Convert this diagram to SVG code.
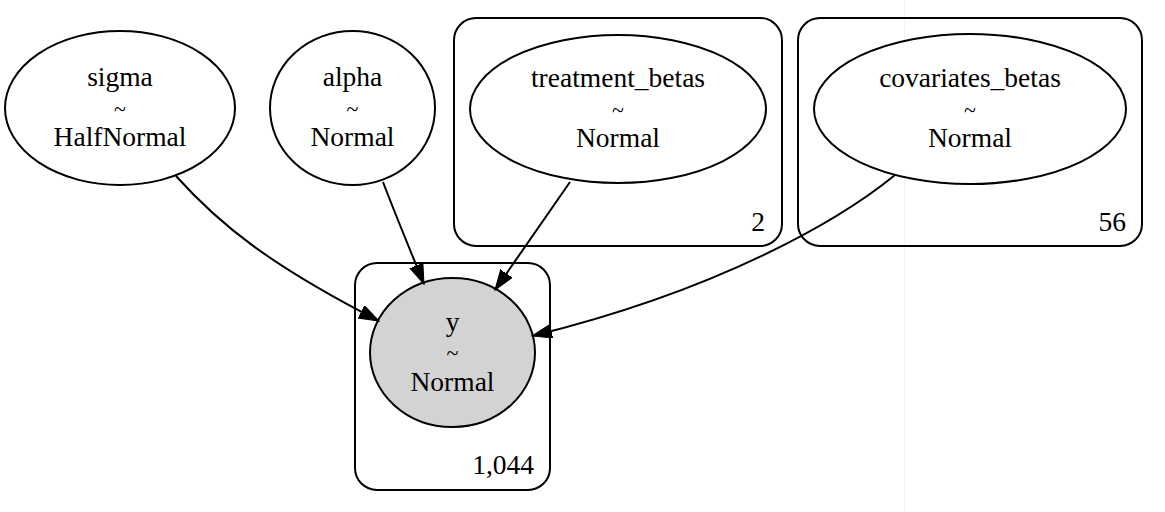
<svg xmlns="http://www.w3.org/2000/svg" width="1165" height="512" viewBox="0 0 1165 512">
<style>
text{font-size:27.5px;fill:#000;text-anchor:middle}
.lbl{text-anchor:end}
.tl{font-size:22px}
.node{fill:#fff;stroke:#000;stroke-width:2}
.obs{fill:#d3d3d3;stroke:#000;stroke-width:2}
.plate{fill:none;stroke:#000;stroke-width:2}
.edge{fill:none;stroke:#000;stroke-width:2;marker-end:url(#arr)}
</style>
<defs>
<marker id="arr" markerUnits="userSpaceOnUse" markerWidth="22" markerHeight="16" refX="20" refY="7" orient="auto">
<path d="M0,0 L20,7 L0,14 z" fill="#000" stroke="#000" stroke-width="1"/>
</marker>
</defs>
<rect width="1165" height="512" fill="#fff"/>
<line x1="904.5" y1="0" x2="904.5" y2="512" stroke="#f0f0f0" stroke-width="1"/>
<g font-family="Liberation Serif">
<g id="plate_treatment">
<rect class="plate" x="454" y="18" width="328" height="228" rx="22"/>
<text class="lbl" x="765" y="231">2</text>
</g>
<g id="plate_covariates">
<rect class="plate" x="798" y="18" width="344" height="228" rx="22"/>
<text class="lbl" x="1126" y="231">56</text>
</g>
<g id="plate_y">
<rect class="plate" x="355" y="263" width="195" height="227" rx="22"/>
<text class="lbl" x="534" y="474">1,044</text>
</g>
<g id="sigma">
<ellipse class="node" cx="120" cy="108" rx="115" ry="77"/>
<text x="120" y="86">sigma</text>
<text class="tl" x="120" y="116">~</text>
<text x="120" y="146">HalfNormal</text>
</g>
<g id="alpha">
<ellipse class="node" cx="352.5" cy="108" rx="82.5" ry="77"/>
<text x="352.5" y="86">alpha</text>
<text class="tl" x="352.5" y="116">~</text>
<text x="352.5" y="146">Normal</text>
</g>
<g id="treatment_betas">
<ellipse class="node" cx="618" cy="109" rx="148" ry="74"/>
<text x="618" y="87">treatment_betas</text>
<text class="tl" x="618" y="117">~</text>
<text x="618" y="147">Normal</text>
</g>
<g id="covariates_betas">
<ellipse class="node" cx="970" cy="109" rx="156" ry="75"/>
<text x="970" y="87">covariates_betas</text>
<text class="tl" x="970" y="117">~</text>
<text x="970" y="147">Normal</text>
</g>
<g id="y">
<ellipse class="obs" cx="452.5" cy="352.5" rx="82.5" ry="74.5"/>
<text x="452.5" y="331">y</text>
<text class="tl" x="452.5" y="360">~</text>
<text x="452.5" y="391">Normal</text>
</g>
</g>
<g id="edges">
<path class="edge" d="M176,176 C220,225 270,265 379,321"/>
<path class="edge" d="M383,182 C396,216 410,250 424,284"/>
<path class="edge" d="M570,182 L495,290"/>
<path class="edge" d="M895,175 C840,220 720,290 532,336"/>
</g>
</svg>
